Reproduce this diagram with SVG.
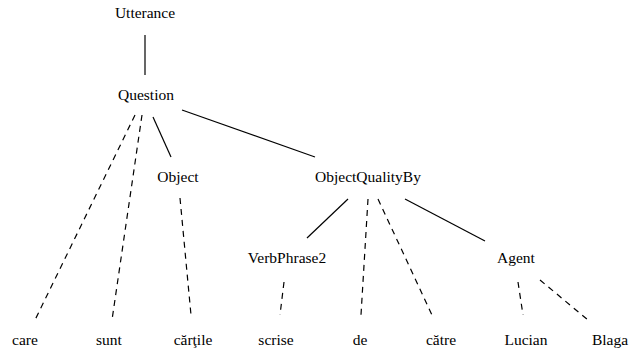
<svg xmlns="http://www.w3.org/2000/svg" width="630" height="351" viewBox="0 0 630 351">
<style>
text{font-family:'Liberation Serif', 'DejaVu Serif', serif;font-size:15.5px;fill:#000;text-anchor:middle}
.s{stroke:#000;stroke-width:1.2;fill:none}
.d{stroke:#000;stroke-width:1.2;fill:none;stroke-dasharray:6 5}
</style>
<rect width="630" height="351" fill="#fff"/>
<g id="connectors">
<line class="s" x1="145" y1="35" x2="145" y2="75"/>
<line class="d" x1="135" y1="115" x2="35" y2="320"/>
<line class="d" x1="142" y1="115" x2="112" y2="320"/>
<line class="s" x1="153" y1="117" x2="171" y2="157"/>
<line class="s" x1="182" y1="110" x2="315" y2="157"/>
<line class="d" x1="180" y1="198" x2="191" y2="315"/>
<line class="s" x1="348" y1="199" x2="307" y2="238"/>
<line class="d" x1="368" y1="199" x2="361" y2="315"/>
<line class="d" x1="378" y1="199" x2="432" y2="315"/>
<line class="s" x1="405" y1="199" x2="485" y2="241"/>
<line class="d" x1="284" y1="282" x2="280" y2="315"/>
<line class="d" x1="518" y1="282" x2="523" y2="315"/>
<line class="d" x1="540" y1="280" x2="588" y2="320"/>
</g>
<g id="Utterance"><text x="145" y="18">Utterance</text></g>
<g id="Question"><text x="146" y="100">Question</text></g>
<g id="Object"><text x="178" y="182">Object</text></g>
<g id="ObjectQualityBy"><text x="368" y="182">ObjectQualityBy</text></g>
<g id="VerbPhrase2"><text x="287" y="263">VerbPhrase2</text></g>
<g id="Agent"><text x="516" y="263">Agent</text></g>
<g id="care"><text x="25" y="345">care</text></g>
<g id="sunt"><text x="109" y="345">sunt</text></g>
<g id="cartile"><text x="193" y="345">cărţile</text></g>
<g id="scrise"><text x="276" y="345">scrise</text></g>
<g id="de"><text x="360" y="345">de</text></g>
<g id="catre"><text x="441" y="345">către</text></g>
<g id="Lucian"><text x="526" y="345">Lucian</text></g>
<g id="Blaga"><text x="610" y="345">Blaga</text></g>
</svg>
